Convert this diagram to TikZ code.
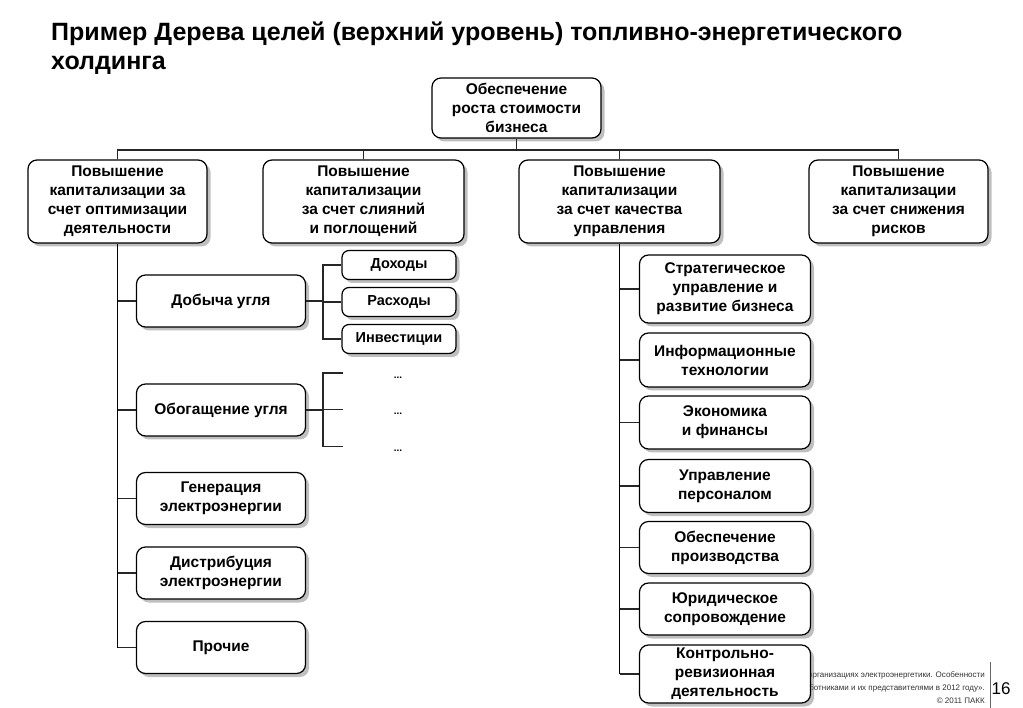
\documentclass[tikz,border=0pt]{standalone}
\usepackage{fontspec}
\setmainfont{Liberation Sans}
\usetikzlibrary{shadows}
\begin{document}
\begin{tikzpicture}[x=1pt,y=-1pt,
  box/.style={draw=black, line width=1.2pt, rounded corners=9pt, fill=white,
    drop shadow={shadow xshift=3.5pt, shadow yshift=-3.5pt, fill=black!50},
    align=center, inner sep=1pt, font=\bfseries\fontsize{15.5}{19}\selectfont},
  subbox/.style={box, rounded corners=7pt, font=\bfseries\fontsize{14.5}{17}\selectfont},
  conn/.style={line width=1.1pt, black!85},
  trunk/.style={line width=1.8pt, black},
  dots/.style={font=\bfseries\fontsize{10}{12}\selectfont, inner sep=0pt},
  foot/.style={anchor=east, inner sep=0pt, font=\fontsize{8}{10}\selectfont, text=black!80}]
\useasboundingbox (0,0) rectangle (1023,708);

% title
\node[anchor=north west, inner sep=0pt, align=left,
  font=\bfseries\fontsize{25}{29}\selectfont] (title) at (51,21.5)
  {Пример Дерева целей (верхний уровень) топливно-энергетического\\холдинга};

% footer (partly covered by the last box)
\node[foot] (f1) at (985,675) {организациях электроэнергетики. Особенности};
\node[foot] (f2) at (985,688) {ботниками и их представителями в 2012 году».};
\node[foot] (f3) at (985,701) {© 2011 ПАКК};
\coordinate (sepT) at (990,662);
\coordinate (sepB) at (990,708);
\draw[black!60, line width=0.8pt] (sepT) -- (sepB);
\node[inner sep=0pt, font=\fontsize{17}{20}\selectfont] (pg) at (1001,689) {16};

% top
\node[box, minimum width=169pt, minimum height=60pt] (top) at (516.5,108)
  {Обеспечение\\роста стоимости\\бизнеса};

% level 1
\node[box, minimum width=179pt, minimum height=83pt] (b1) at (117.5,201.5)
  {Повышение\\капитализации за\\счет оптимизации\\деятельности};
\node[box, minimum width=201pt, minimum height=83pt] (b2) at (363.5,201.5)
  {Повышение\\капитализации\\за счет слияний\\и поглощений};
\node[box, minimum width=201pt, minimum height=83pt] (b3) at (619.5,201.5)
  {Повышение\\капитализации\\за счет качества\\управления};
\node[box, minimum width=179pt, minimum height=83pt] (b4) at (898.5,201.5)
  {Повышение\\капитализации\\за счет снижения\\рисков};

% left children
\node[box, minimum width=169pt, minimum height=52pt] (l1) at (221,301) {Добыча угля};
\node[box, minimum width=169pt, minimum height=52pt] (l2) at (221,410) {Обогащение угля};
\node[box, minimum width=169pt, minimum height=52pt] (l3) at (221,498.5) {Генерация\\электроэнергии};
\node[box, minimum width=169pt, minimum height=52pt] (l4) at (221,573) {Дистрибуция\\электроэнергии};
\node[box, minimum width=169pt, minimum height=52pt] (l5) at (221,647.5) {Прочие};

% sub boxes
\node[subbox, minimum width=114pt, minimum height=29pt] (s1) at (399,265) {Доходы};
\node[subbox, minimum width=114pt, minimum height=29pt] (s2) at (399,302) {Расходы};
\node[subbox, minimum width=114pt, minimum height=29pt] (s3) at (399,339) {Инвестиции};

\node[dots] (d1) at (398,378) {...};
\node[dots] (d2) at (398,414) {...};
\node[dots] (d3) at (398,451) {...};
\coordinate (e1) at (343,373);
\coordinate (e2) at (343,409.5);
\coordinate (e3) at (343,446.5);

% right children
\node[box, minimum width=171pt, minimum height=68pt] (r1) at (725,289) {Стратегическое\\управление и\\развитие бизнеса};
\node[box, minimum width=171pt, minimum height=54pt] (r2) at (725,360) {Информационные\\технологии};
\node[box, minimum width=171pt, minimum height=53pt] (r3) at (725,422.5) {Экономика\\и финансы};
\node[box, minimum width=171pt, minimum height=53pt] (r4) at (725,486) {Управление\\персоналом};
\node[box, minimum width=171pt, minimum height=52pt] (r5) at (725,547.5) {Обеспечение\\производства};
\node[box, minimum width=171pt, minimum height=52pt] (r6) at (725,609) {Юридическое\\сопровождение};
\node[box, minimum width=171pt, minimum height=58pt] (r7) at (725,674) {Контрольно-\\ревизионная\\деятельность};

% bus
\coordinate (bus) at (0,150);
\draw[conn] (top.south) -- (top.south |- bus);
\draw[conn] (b1.north) -- (b1.north |- bus) -| (b4.north);
\draw[conn] (b2.north) -- (b2.north |- bus);
\draw[conn] (b3.north) -- (b3.north |- bus);

% left trunk
\draw[trunk] (b1.south) -- (b1.south |- l5.west);
\foreach \n in {l1,l2,l3,l4,l5} \draw[conn] (b1.south |- \n.west) -- (\n.west);

% sub brackets
\coordinate (bx) at (323,0);
\draw[conn] (l1.east) -- (bx |- l1.east);
\draw[conn] (s1.west) -| (bx |- s3.west) -- (s3.west);
\draw[conn] (bx |- s2.west) -- (s2.west);
\draw[conn] (l2.east) -- (bx |- l2.east);
\draw[conn] (e1) -| (bx |- e3) -- (e3);
\draw[conn] (bx |- e2) -- (e2);

% right trunk
\draw[trunk] (b3.south) -- (b3.south |- r7.west);
\foreach \n in {r1,r2,r3,r4,r5,r6,r7} \draw[conn] (b3.south |- \n.west) -- (\n.west);
\end{tikzpicture}
\end{document}
